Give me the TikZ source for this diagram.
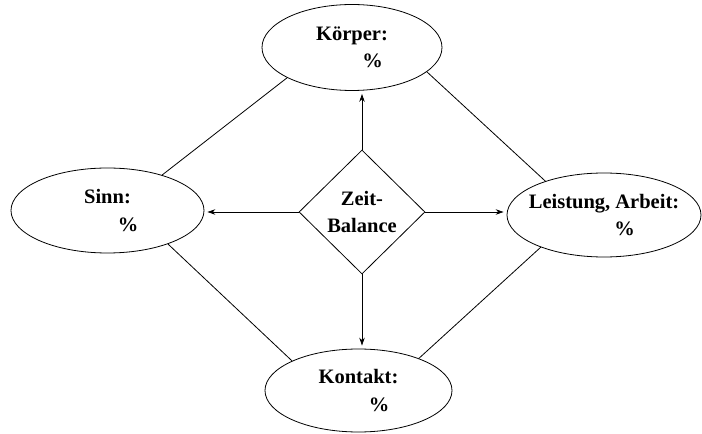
\documentclass[tikz,border=0pt]{standalone}
\usepackage{fontspec}
\setmainfont{Liberation Serif}
\usepackage{tikz}
\usetikzlibrary{shapes.geometric, arrows.meta, calc}
\tikzstyle{area} = [ellipse,
draw=black,
thick,
inner sep=0pt]
\tikzstyle{balance} = [diamond,
draw=black,
thick,
inner sep=0pt,
minimum width=126pt,
minimum height=124pt, text centered, align=center]
\tikzstyle{arrow} = [-{Stealth[length=8pt,width=5.5pt]},thick,shorten >=3pt]
\tikzstyle{link} = [thick]
\newcommand{\anteil}{\hspace*{2em}\%}

\begin{document}
\begin{tikzpicture}[x=1pt,y=1pt,font=\fontsize{20.5}{27.5}\selectfont\bfseries,
  thick/.style={line width=0.8pt}]
        \useasboundingbox (0,0) rectangle (702,434);
        % center
        \node[balance] (bal) at (362,222) {Zeit-\\Balance};
        % the four areas
        \node[area, minimum width=180pt, minimum height=86pt,
          label={[align=center]center:K\"orper:\\\anteil}] (koerper) at (352,386.5) {};
        \node[area, minimum width=193pt, minimum height=85pt,
          label={[align=center]center:Sinn:\\\anteil}] (sinn) at (107.5,223.5) {};
        \node[area, minimum width=194pt, minimum height=84pt,
          label={[align=center]center:Leistung, Arbeit:\\\anteil}] (leistung) at (604,219) {};
        \node[area, minimum width=187pt, minimum height=83pt,
          label={[align=center]center:Kontakt:\\\anteil}] (kontakt) at (358.5,43.5) {};
        % arrows out of the diamond
        \draw[arrow] (bal.north) -- (bal.north |- koerper.south);
        \draw[arrow] (bal.west) -- (bal.west -| sinn.east);
        \draw[arrow] (bal.east) -- (bal.east -| leistung.west);
        \draw[arrow] (bal.south) -- (bal.south |- kontakt.north);
        % ring of lines
        \draw[link] (koerper.205) -- (sinn.33);
        \draw[link] (koerper.342) -- (leistung.150);
        \draw[link] (sinn.331) -- (kontakt.156);
        \draw[link] (leistung.207) -- (kontakt.28);
\end{tikzpicture}
\end{document}
